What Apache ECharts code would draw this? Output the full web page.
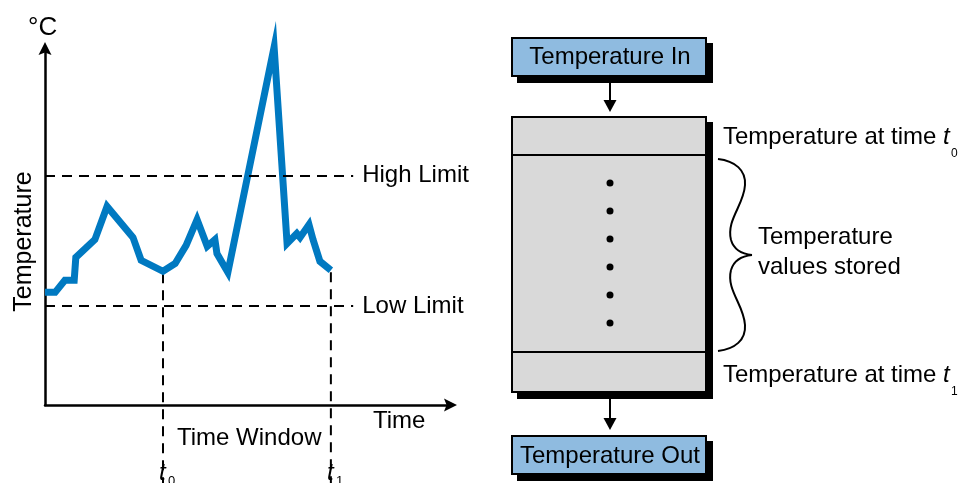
<!DOCTYPE html>
<html><head><meta charset="utf-8">
<script src="https://cdn.jsdelivr.net/npm/echarts@6/dist/echarts.min.js"></script>
<style>html,body{margin:0;padding:0;background:#fff}#c{width:967px;height:483px}</style>
</head><body><div id="c"></div>
<script>
// ---- data (time in arbitrary units 0..100, temperature in arbitrary units 0..100) ----
const timeValues = [0, 2.5, 4.9, 7.2, 7.6, 12.3, 15.3, 21.7, 23.7, 29.1, 32.1, 34.8, 37.5, 40.0, 41.9, 42.4, 45.1, 56.5, 59.7, 62.1, 62.9, 65.1, 66.1, 67.8, 70.5];
const tempValues = [31.6, 31.6, 35.0, 35.0, 41.4, 46.4, 55.7, 47.0, 40.6, 37.5, 39.7, 44.8, 52.0, 44.5, 46.4, 42.5, 37.2, 100.4, 45.3, 48.1, 47.0, 50.6, 46.4, 40.3, 37.8];
const limitNames = ['High Limit', 'Low Limit'];
const limitValues = [64.3, 27.7];
const limitLineEnd = 76;
const windowIndex = [9, 24];
const windowSubs = ['0', '1'];
const storedDots = [0, 1, 2, 3, 4, 5];

const FONT = "'Liberation Sans', Arial, Helvetica, sans-serif";
const FS = 24;
const ARROW = 'path://M10,0L20,20L10,16L0,20Z';

function txt(x, y, text, opts) {
  opts = opts || {};
  return {
    type: 'text', x: x, y: y, rotation: opts.rotation || 0, silent: true,
    style: {
      text: text, fill: '#000',
      font: (opts.italic ? 'italic ' : '') + (opts.size || FS) + 'px ' + FONT,
      align: opts.align || 'left', verticalAlign: 'middle'
    }
  };
}
function box(l, t, r, b, fill) {
  return [
    { type: 'rect', silent: true, shape: { x: l + 6, y: t + 6, width: r - l, height: b - t }, style: { fill: '#000' } },
    { type: 'rect', silent: true, shape: { x: l + 1, y: t + 1, width: r - l - 2, height: b - t - 2 }, style: { fill: fill, stroke: '#000', lineWidth: 2 } }
  ];
}
function arrowDown(x, y1, y2) {
  return [
    { type: 'line', silent: true, shape: { x1: x, y1: y1, x2: x, y2: y2 - 9 }, style: { stroke: '#000', lineWidth: 2 } },
    { type: 'polygon', silent: true, shape: { points: [[x - 6.5, y2 - 12], [x + 6.5, y2 - 12], [x, y2]] }, style: { fill: '#000' } }
  ];
}
function bez(p) {
  return { type: 'bezierCurve', silent: true,
    shape: { x1: p[0], y1: p[1], cpx1: p[2], cpy1: p[3], cpx2: p[4], cpy2: p[5], x2: p[6], y2: p[7] },
    style: { fill: null, stroke: '#000', lineWidth: 2 } };
}

const graphics = [];
// left chart texts
graphics.push(txt(28, 28, '°C', { size: 26 }));
graphics.push(txt(24, 241.5, 'Temperature', { rotation: Math.PI / 2, align: 'center', size: 25 }));
graphics.push(txt(373, 421.5, 'Time'));
graphics.push(txt(177, 438.5, 'Time Window'));
// right diagram
graphics.push(...box(511, 37, 707, 77, '#8fbbe0'));
graphics.push(txt(610, 57, 'Temperature In', { align: 'center' }));
graphics.push(...arrowDown(610, 83, 112));
graphics.push(...box(511, 116, 707, 393, '#d9d9d9'));
graphics.push({ type: 'line', silent: true, shape: { x1: 512, y1: 155, x2: 706, y2: 155 }, style: { stroke: '#000', lineWidth: 2 } });
graphics.push({ type: 'line', silent: true, shape: { x1: 512, y1: 352, x2: 706, y2: 352 }, style: { stroke: '#000', lineWidth: 2 } });
storedDots.forEach(function (i) {
  graphics.push({ type: 'circle', silent: true, shape: { cx: 610, cy: 183 + i * 28, r: 3.5 }, style: { fill: '#000' } });
});
graphics.push(...arrowDown(610, 399, 430));
graphics.push(...box(511, 435, 707, 475, '#8fbbe0'));
graphics.push(txt(610, 456.5, 'Temperature Out', { align: 'center' }));
graphics.push(txt(723, 137, 'Temperature at time '));
graphics.push(txt(943, 137, 't', { italic: true }));
graphics.push(txt(951, 154, '0', { size: 12 }));
graphics.push(txt(723, 375, 'Temperature at time '));
graphics.push(txt(943, 375, 't', { italic: true }));
graphics.push(txt(951, 392, '1', { size: 12 }));
[
  [718, 159, 735, 161, 746, 170, 745, 185],
  [745, 185, 744, 205, 726, 220, 731, 240],
  [731, 240, 734, 250, 742, 254, 752, 255],
  [752, 255, 742, 256, 734, 260, 731, 270],
  [731, 270, 726, 290, 744, 305, 745, 325],
  [745, 325, 746, 340, 735, 349, 718, 351]
].forEach(function (s) { graphics.push(bez(s)); });
graphics.push(txt(758, 237, 'Temperature'));
graphics.push(txt(758, 267, 'values stored'));

const chart = echarts.init(document.getElementById('c'), null, { renderer: 'canvas' });
const axisCommon = {
  type: 'value', min: 0, max: 100,
  axisLine: { show: true, onZero: false, symbol: ['none', ARROW], symbolSize: [14, 13], lineStyle: { color: '#000', width: 2.5 } },
  axisTick: { show: false }, axisLabel: { show: false }, splitLine: { show: false }
};
chart.setOption({
  animation: false,
  backgroundColor: '#fff',
  grid: { left: 45, top: 48.5, width: 405.5, height: 356.5 },
  xAxis: axisCommon,
  yAxis: axisCommon,
  graphic: graphics,
  series: [
    {
      type: 'line', clip: false, symbol: 'none', silent: true,
      data: timeValues.map(function (t, i) { return [t, tempValues[i]]; }),
      lineStyle: { color: '#0079c1', width: 7, join: 'miter', miterLimit: 10, cap: 'butt' },
      markLine: {
        silent: true, symbol: 'none', animation: false,
        lineStyle: { color: '#000', width: 2, type: [10, 7] },
        label: { show: true, position: 'end', distance: 9, color: '#000', fontSize: FS, fontFamily: FONT, formatter: '{b}' },
        emphasis: { disabled: true },
        data: limitValues.map(function (v, i) {
          return [{ coord: [0, v], name: limitNames[i] }, { coord: [limitLineEnd, v] }];
        })
      }
    },
    {
      type: 'custom', clip: false, silent: true,
      data: windowIndex.map(function (idx) { return [timeValues[idx], tempValues[idx]]; }),
      renderItem: function (params, api) {
        const p = api.coord([api.value(0), api.value(1)]);
        const H = api.getHeight();
        return {
          type: 'group', children: [
            { type: 'line', shape: { x1: p[0], y1: p[1] + 2, x2: p[0], y2: H }, style: { stroke: '#000', lineWidth: 2, lineDash: [10, 7] } },
            { type: 'text', x: p[0] - 4, y: 473, style: { text: 't', fill: '#000', font: 'italic ' + FS + 'px ' + FONT, align: 'left', verticalAlign: 'middle' } },
            { type: 'text', x: p[0] + 5, y: 481, style: { text: windowSubs[params.dataIndex], fill: '#000', font: '13px ' + FONT, align: 'left', verticalAlign: 'middle' } }
          ]
        };
      }
    }
  ]
});
</script>
</body></html>
